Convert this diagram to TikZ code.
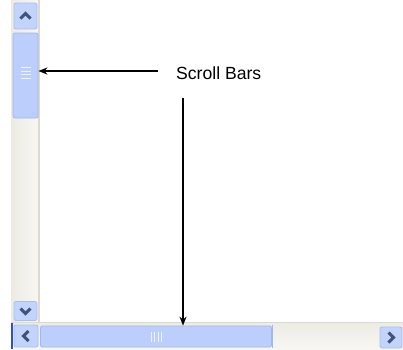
\documentclass[tikz,border=0pt]{standalone}
\usepackage{fontspec}
\setmainfont{Liberation Sans}
\usetikzlibrary{arrows.meta}
\definecolor{trackA}{HTML}{ECEBE3}
\definecolor{trackB}{HTML}{F7F6F2}
\definecolor{trackEdge}{HTML}{DCDAD0}
\definecolor{btnFill}{HTML}{C3D4FC}
\definecolor{btnEdge}{HTML}{A9BFF0}
\definecolor{thumbFill}{HTML}{BCCEFB}
\definecolor{thumbEdge}{HTML}{9FB6EE}
\definecolor{glyph}{HTML}{3F5378}
\definecolor{grip}{HTML}{EEF3FF}
\definecolor{focusblue}{HTML}{3050C8}
\tikzset{
  btn/.style={draw=btnEdge, fill=btnFill, rounded corners=2pt, line width=0.8pt, inner sep=0pt},
  thumb/.style={draw=thumbEdge, fill=thumbFill, rounded corners=2pt, line width=0.8pt, inner sep=0pt},
  chev/.style={draw=glyph, line width=3pt, line cap=butt, line join=miter},
  gripline/.style={draw=grip, line width=1.1pt},
  pointer/.style={draw=black, line width=1.6pt, -{Stealth[length=9pt,width=7pt]}},
  label/.style={font=\fontsize{17.6}{20}\selectfont, inner sep=0pt}
}
\begin{document}
\begin{tikzpicture}[x=1pt,y=-1pt]
\useasboundingbox (0,0) rectangle (403,349);
\fill[white] (0,0) rectangle (403,349);
% vertical track
\shade[left color=trackA, right color=trackB] (11,0) rectangle (38,322);
\fill[trackEdge] (38,0) rectangle (40,322);
% horizontal track
\shade[top color=trackA, bottom color=trackB] (11,322) rectangle (403,349);
\draw[trackEdge, line width=0.8pt] (11,322.5) -- (403,322.5);
\fill[focusblue] (11,323) rectangle (13,349);
% up button
\node[btn, minimum width=23pt, minimum height=26pt] (upbtn) at (25.5,16) {};
\draw[chev] ([xshift=-5pt,yshift=-2.5pt]upbtn.center) -- ([yshift=2.5pt]upbtn.center) -- ([xshift=5pt,yshift=-2.5pt]upbtn.center);
% vertical thumb
\node[thumb, minimum width=25pt, minimum height=85pt] (vthumb) at (25.5,75.5) {};
\foreach \k in {0,1,2,3}
  \draw[gripline] (20.5,{67.5+3.6*\k}) -- (30.5,{67.5+3.6*\k});
% down button
\node[btn, minimum width=23pt, minimum height=19pt] (downbtn) at (25.5,311) {};
\draw[chev] ([xshift=-5pt,yshift=2.5pt]downbtn.center) -- ([yshift=-2.5pt]downbtn.center) -- ([xshift=5pt,yshift=2.5pt]downbtn.center);
% left button
\node[btn, minimum width=24pt, minimum height=22pt] (leftbtn) at (26,336) {};
\draw[chev] ([xshift=2.5pt,yshift=5pt]leftbtn.center) -- ([xshift=-2.5pt]leftbtn.center) -- ([xshift=2.5pt,yshift=-5pt]leftbtn.center);
% horizontal thumb
\node[thumb, minimum width=231pt, minimum height=21pt] (hthumb) at (156,336.5) {};
\draw[thumbEdge, line width=0.8pt] (272.5,325) -- (272.5,348);
\foreach \k in {0,1,2,3}
  \draw[gripline] ({151.5+3.4*\k},332) -- ({151.5+3.4*\k},342);
% right button
\node[btn, minimum width=22pt, minimum height=21pt] (rightbtn) at (391,337.5) {};
\draw[chev] ([xshift=-2.5pt,yshift=5pt]rightbtn.center) -- ([xshift=2.5pt]rightbtn.center) -- ([xshift=-2.5pt,yshift=-5pt]rightbtn.center);
% label and pointers
\node[label, anchor=west] (lbl) at (176,73) {Scroll Bars};
\coordinate (hstart) at (158,71);
\coordinate (vstart) at (183,98);
\draw[pointer] (hstart) -- (hstart -| vthumb.east);
\draw[pointer] (vstart) -- (vstart |- hthumb.north);
\end{tikzpicture}
\end{document}
